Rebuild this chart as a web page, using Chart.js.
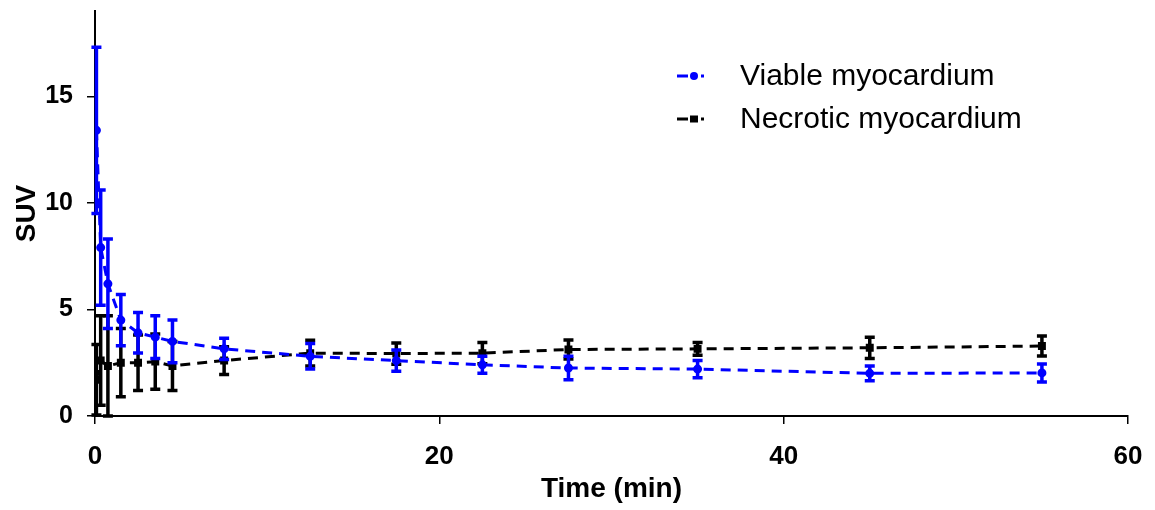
<!DOCTYPE html>
<html>
<head>
<meta charset="utf-8">
<script src="https://cdn.jsdelivr.net/npm/chart.js@4"></script>
<style>
  body { margin: 0; background: #fff; }
  #wrap { width: 1155px; height: 510px; position: relative; }
</style>
</head>
<body>
<div id="wrap"><canvas id="suvChart"></canvas></div>
<script>
        // values (time in min, SUV mean and SD)
        const timePoints = [0.083, 0.33, 0.75, 1.5, 2.5, 3.5, 4.5, 7.5, 12.5, 17.5, 22.5, 27.5, 35, 45, 55];
        const viableMean = [13.4, 7.9, 6.2, 4.5, 3.9, 3.7, 3.5, 3.15, 2.8, 2.6, 2.4, 2.25, 2.2, 2.0, 2.02];
        const viableSd = [3.9, 2.7, 2.1, 1.2, 0.95, 1.0, 1.0, 0.5, 0.6, 0.5, 0.4, 0.55, 0.4, 0.35, 0.42];
        const necroticMean = [1.7, 2.6, 2.35, 2.5, 2.5, 2.55, 2.35, 2.6, 2.95, 2.93, 2.95, 3.12, 3.15, 3.2, 3.28];
        const necroticSd = [1.65, 2.1, 2.35, 1.6, 1.3, 1.3, 1.15, 0.65, 0.6, 0.5, 0.5, 0.45, 0.3, 0.5, 0.47];
        const xTicks = [0, 20, 40, 60];
        const yTicks = [0, 5, 10, 15];

        const fontFamily = '"Liberation Sans", Arial, sans-serif';

        function toPoints(xs, ys) {
            return xs.map((x, i) => ({ x: x, y: ys[i] }));
        }

        // vertical SD bars with caps, drawn under each dataset's line
        const errorBars = {
            id: 'errorBars',
            beforeDatasetDraw(chart, args) {
                const ds = chart.data.datasets[args.index];
                if (!ds.sd) return;
                const ctx = chart.ctx;
                const xs = chart.scales.x, ys = chart.scales.y;
                ctx.save();
                ctx.strokeStyle = ds.borderColor;
                ctx.lineWidth = 3.5;
                ds.data.forEach((p, i) => {
                    const px = xs.getPixelForValue(p.x);
                    const top = ys.getPixelForValue(p.y + ds.sd[i]);
                    const bot = ys.getPixelForValue(Math.max(0, p.y - ds.sd[i]));
                    ctx.beginPath();
                    ctx.moveTo(px, top); ctx.lineTo(px, bot);
                    ctx.moveTo(px - 5, top); ctx.lineTo(px + 5, top);
                    ctx.moveTo(px - 5, bot); ctx.lineTo(px + 5, bot);
                    ctx.stroke();
                });
                ctx.restore();
            }
        };

        // legend placed inside the plot, like the original
        const plotLegend = {
            id: 'plotLegend',
            afterDraw(chart) {
                const ctx = chart.ctx;
                ctx.save();
                chart.data.datasets.forEach((ds, i) => {
                    const y = 76 + i * 43;
                    ctx.strokeStyle = ds.borderColor;
                    ctx.fillStyle = ds.borderColor;
                    ctx.lineWidth = 3;
                    ctx.beginPath();
                    ctx.moveTo(677, y); ctx.lineTo(688, y);
                    ctx.moveTo(701, y); ctx.lineTo(704, y);
                    ctx.stroke();
                    ctx.beginPath();
                    if (ds.pointStyle === 'rect') {
                        ctx.fillRect(690, y - 3.5, 8, 7);
                    } else {
                        ctx.arc(694, y, 4, 0, Math.PI * 2);
                        ctx.fill();
                    }
                    ctx.fillStyle = '#000';
                    ctx.font = '30px ' + fontFamily;
                    ctx.textBaseline = 'middle';
                    ctx.fillText(ds.label, 740, y + 1);
                });
                ctx.restore();
            }
        };

        const ctx = document.getElementById('suvChart').getContext('2d');
        const suvChart = new Chart(ctx, {
            type: 'line',
            data: {
                datasets: [
                    {
                        label: 'Viable myocardium',
                        data: toPoints(timePoints, viableMean),
                        sd: viableSd,
                        borderColor: '#0000ff',
                        backgroundColor: '#0000ff',
                        borderWidth: 3,
                        borderDash: [10, 7],
                        pointStyle: 'circle',
                        pointRadius: 3,
                        fill: false,
                        tension: 0
                    },
                    {
                        label: 'Necrotic myocardium',
                        data: toPoints(timePoints, necroticMean),
                        sd: necroticSd,
                        borderColor: '#000000',
                        backgroundColor: '#000000',
                        borderWidth: 3,
                        borderDash: [10, 7],
                        pointStyle: 'rect',
                        pointRadius: 3.5,
                        fill: false,
                        tension: 0
                    }
                ]
            },
            options: {
                responsive: true,
                maintainAspectRatio: false,
                animation: false,
                layout: { padding: { top: 11, right: 27, left: 0, bottom: 0 } },
                plugins: {
                    legend: { display: false },
                    tooltip: { enabled: false }
                },
                scales: {
                    x: {
                        type: 'linear',
                        min: 0,
                        max: 60,
                        afterBuildTicks: s => { s.ticks = xTicks.map(v => ({ value: v })); },
                        afterFit: s => { s.height = 94; s.paddingRight = 0; },
                        grid: { drawOnChartArea: false, drawTicks: true, tickLength: 8, color: '#000', lineWidth: 1.5 },
                        border: { color: '#000', width: 2 },
                        ticks: { color: '#000', padding: 17, font: { family: fontFamily, size: 26, weight: 'bold' } },
                        title: { display: true, text: 'Time (min)', color: '#000', padding: { top: 0 }, font: { family: fontFamily, size: 28, weight: 'bold' } }
                    },
                    y: {
                        min: 0,
                        max: 19,
                        afterBuildTicks: s => { s.ticks = yTicks.map(v => ({ value: v })); },
                        afterFit: s => { s.width = 95; s.paddingTop = 0; },
                        grid: { drawOnChartArea: false, drawTicks: true, tickLength: 8, color: '#000', lineWidth: 1.5 },
                        border: { color: '#000', width: 2 },
                        ticks: { color: '#000', padding: 14, font: { family: fontFamily, size: 25, weight: 'bold' } },
                        title: { display: true, text: 'SUV', color: '#000', padding: { top: 10, bottom: 0 }, font: { family: fontFamily, size: 28, weight: 'bold' } }
                    }
                }
            },
            plugins: [errorBars, plotLegend]
        });
</script>
</body>
</html>
